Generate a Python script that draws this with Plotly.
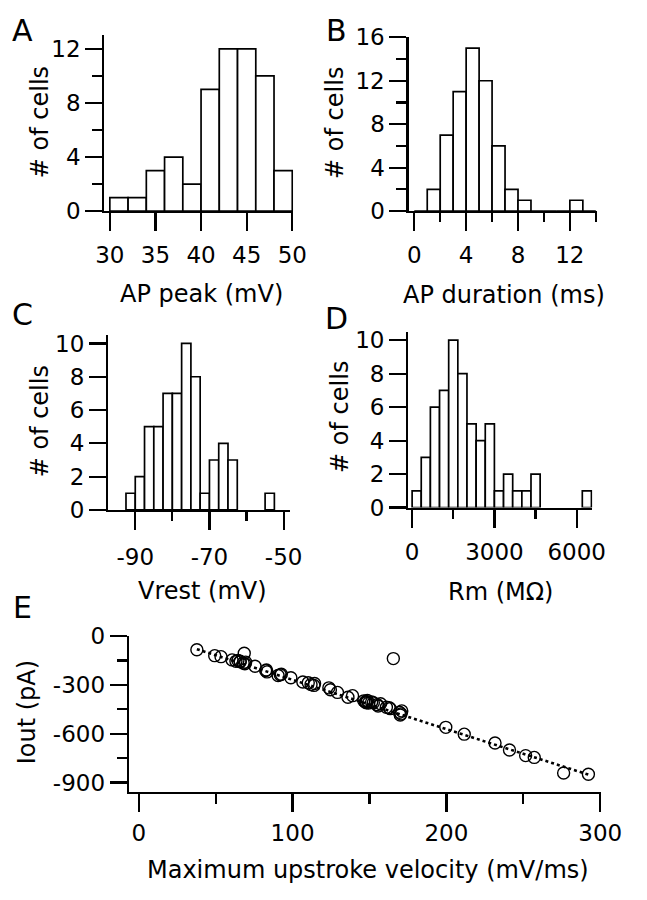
import plotly.graph_objects as go

# ---------------- data ----------------
# A: AP peak histogram (bin width 2 mV)
ap_peak_centers = [31, 33, 35, 37, 39, 41, 43, 45, 47, 49]
ap_peak_counts = [1, 1, 3, 4, 2, 9, 12, 12, 10, 3]
ap_peak_width = 2

# B: AP duration histogram (bin width 1 ms)
ap_dur_centers = [0.5, 1.5, 2.5, 3.5, 4.5, 5.5, 6.5, 7.5, 8.5, 9.5, 10.5, 11.5, 12.5, 13.5]
ap_dur_counts = [0, 2, 7, 11, 15, 12, 6, 2, 1, 0, 0, 0, 1, 0]
ap_dur_width = 1

# C: Vrest histogram (bin width 2.5 mV)
vrest_centers = [-91.25, -88.75, -86.25, -83.75, -81.25, -78.75, -76.25, -73.75,
                 -71.25, -68.75, -66.25, -63.75, -53.75]
vrest_counts = [1, 2, 5, 5, 7, 7, 10, 8, 1, 3, 4, 3, 1]
vrest_width = 2.5

# D: Rm histogram
rm_centers = [167, 500, 833, 1167, 1500, 1833, 2167, 2500, 2833, 3167, 3500, 3833,
              4167, 4500, 6370]
rm_counts = [1, 3, 6, 7, 10, 8, 5, 4, 5, 1, 2, 1, 1, 2, 1]
rm_width = 333

# E: Iout vs maximum upstroke velocity
vmax = [37.8, 49.4, 53.5, 68.6, 60.7, 63.2, 65.9, 67.9, 69.0, 75.6, 83.0, 83.4,
        90.6, 92.7, 98.9, 106.7, 110.2, 114.3, 113.9, 123.6, 124.6, 129.2, 136.0,
        139.0, 146.3, 147.3, 149.4, 151.4, 155.6, 157.2, 162.8, 165.5, 171.0, 170.0,
        199.6, 211.6, 231.6, 241.0, 251.5, 257.1, 276.2, 292.3,
        66.0, 147.8, 148.6, 163.5, 170.5, 155.0, 92.0, 152.5, 64.5, 169.5, 148.0,
        161.0, 112.0, 82.5, 69.5]
iout = [-84, -120, -126, -105, -146, -155, -154, -165, -170, -185, -208, -220,
        -242, -234, -256, -282, -287, -291, -303, -318, -330, -346, -376,
        -366, -398, -405, -412, -405, -430, -416, -440, -138, -460, -485,
        -561, -603, -657, -700, -735, -746, -842, -850,
        -158, -402, -396, -446, -478, -421, -238, -410, -150, -468, -410,
        -437, -298, -212, -160]
fit_x = [37.8, 292.3]
fit_y = [-80, -852]

# tick values / labels (plain hyphen minus as in the original)
a_xticks = [30, 35, 40, 45, 50]
a_yticks = [0, 4, 8, 12]
b_xticks = [0, 4, 8, 12]
b_yticks = [0, 4, 8, 12, 16]
c_xticks = [-90, -70, -50]
c_xticklabels = ["-90", "-70", "-50"]
cd_yticks = [0, 2, 4, 6, 8, 10]
d_xticks = [0, 3000, 6000]
e_xticks = [0, 100, 200, 300]
e_yticks = [0, -300, -600, -900]
e_yticklabels = ["0", "-300", "-600", "-900"]

# ---------------- layout helpers ----------------
W, H = 647, 900
def px(xp):
    return xp / W
def py(yp):
    return 1 - yp / H

FONT = "DejaVu Sans"
TICKFONT = dict(family=FONT, size=23, color="black")
LW = 2.2

def minor(vals, length):
    return dict(tickvals=vals, ticks="outside", ticklen=length, tickwidth=LW,
                tickcolor="black")

def axis_common(**kw):
    d = dict(showline=True, linecolor="black", linewidth=LW, ticks="outside",
             tickwidth=LW, tickcolor="black", showgrid=False, zeroline=False,
             tickfont=TICKFONT, fixedrange=True)
    d.update(kw)
    return d

fig = go.Figure()

def add_hist(centers, counts, width, xa, ya):
    fig.add_trace(go.Bar(x=centers, y=counts, width=width, xaxis=xa, yaxis=ya,
                         marker=dict(color="white", line=dict(color="black", width=1.7)),
                         showlegend=False, hoverinfo="skip"))

add_hist(ap_peak_centers, ap_peak_counts, ap_peak_width, "x", "y")
add_hist(ap_dur_centers, ap_dur_counts, ap_dur_width, "x2", "y2")
add_hist(vrest_centers, vrest_counts, vrest_width, "x3", "y3")
add_hist(rm_centers, rm_counts, rm_width, "x4", "y4")

fig.add_trace(go.Scatter(x=fit_x, y=fit_y, mode="lines", xaxis="x5", yaxis="y5",
                         line=dict(color="black", width=2.6, dash="dot"),
                         showlegend=False, hoverinfo="skip"))
fig.add_trace(go.Scatter(x=vmax, y=iout, mode="markers", xaxis="x5", yaxis="y5",
                         marker=dict(symbol="circle-open", size=12, color="black",
                                     line=dict(width=1.4, color="black")),
                         showlegend=False, hoverinfo="skip"))

layout = dict(
    width=W, height=H, margin=dict(l=0, r=0, t=0, b=0),
    paper_bgcolor="white", plot_bgcolor="white", bargap=0, showlegend=False,
    # Panel A
    xaxis=axis_common(domain=[px(100), px(298)], range=[29.4, 50.1], anchor="y",
                      tickvals=a_xticks, ticklen=18, ticklabelstandoff=4),
    yaxis=axis_common(domain=[py(204), py(23)], range=[0, 13], anchor="x",
                      tickvals=a_yticks, ticklen=17, minor=minor([2, 6, 10], 10)),
    # Panel B
    xaxis2=axis_common(domain=[px(419), px(616.7)], range=[-0.44, 14.1], anchor="y2",
                       tickvals=b_xticks, ticklen=18, ticklabelstandoff=4,
                       minor=minor([2, 6, 10, 14], 9)),
    yaxis2=axis_common(domain=[py(204), py(25)], range=[0, 16], anchor="x2",
                       tickvals=b_yticks, ticklen=17, minor=minor([2, 6, 10, 14], 10)),
    # Panel C
    xaxis3=axis_common(domain=[px(104), px(295)], range=[-97.3, -48.2], anchor="y3",
                       tickvals=c_xticks, ticktext=c_xticklabels, ticklen=18,
                       ticklabelstandoff=7, minor=minor([-80, -60], 9)),
    yaxis3=axis_common(domain=[py(511.7), py(331.7)], range=[0, 10.5], anchor="x3",
                       tickvals=cd_yticks, ticklen=17),
    # Panel D
    xaxis4=axis_common(domain=[px(418.7), px(611.7)], range=[-139, 6569], anchor="y4",
                       tickvals=d_xticks, ticklen=18, ticklabelstandoff=5,
                       minor=minor([1500, 4500], 9)),
    yaxis4=axis_common(domain=[py(509.3), py(328.3)], range=[0, 10.5], anchor="x4",
                       tickvals=cd_yticks, ticklen=17),
    # Panel E
    xaxis5=axis_common(domain=[px(125.7), px(620.8)], range=[-6.4, 300.5], anchor="y5",
                       tickvals=e_xticks, ticklen=18, ticklabelstandoff=2,
                       minor=minor([50, 150, 250], 10)),
    yaxis5=axis_common(domain=[py(801.7), py(641.7)], range=[-956, 0], anchor="x5",
                       tickvals=e_yticks, ticktext=e_yticklabels, ticklen=17,
                       minor=minor([-150, -450, -750], 10)),
)
fig.update_layout(**layout)

def ann(text, xp, yp, size=24, angle=0):
    fig.add_annotation(text=text, x=px(xp), y=py(yp), xref="paper", yref="paper",
                       xanchor="center", yanchor="middle", showarrow=False,
                       textangle=angle, font=dict(family=FONT, size=size, color="black"))

# panel letters
ann("A", 14, 18, 30)
ann("B", 343, 18, 30)
ann("C", 14, 310, 30)
ann("D", 343, 315, 30)
ann("E", 14, 612, 30)

# axis titles
ann("AP peak (mV)", 201.7, 289)
ann("AP duration (ms)", 519.5, 290)
ann("Vrest (mV)", 202.7, 595)
ann("Rm (MΩ)", 515.8, 596)
ann("Maximum upstroke velocity (mV/ms)", 376.6, 882)
ann("# of cells", 32, 113, angle=-90)
ann("# of cells", 342, 113, angle=-90)
ann("# of cells", 32, 421, angle=-90)
ann("# of cells", 347, 416, angle=-90)
ann("Iout (pA)", 19, 720, angle=-90)

fig.write_html("out.html",
               config={"displayModeBar": False, "staticPlot": True},
               post_script="document.body.style.margin='0px';"
                           "document.documentElement.style.overflow='hidden';")
